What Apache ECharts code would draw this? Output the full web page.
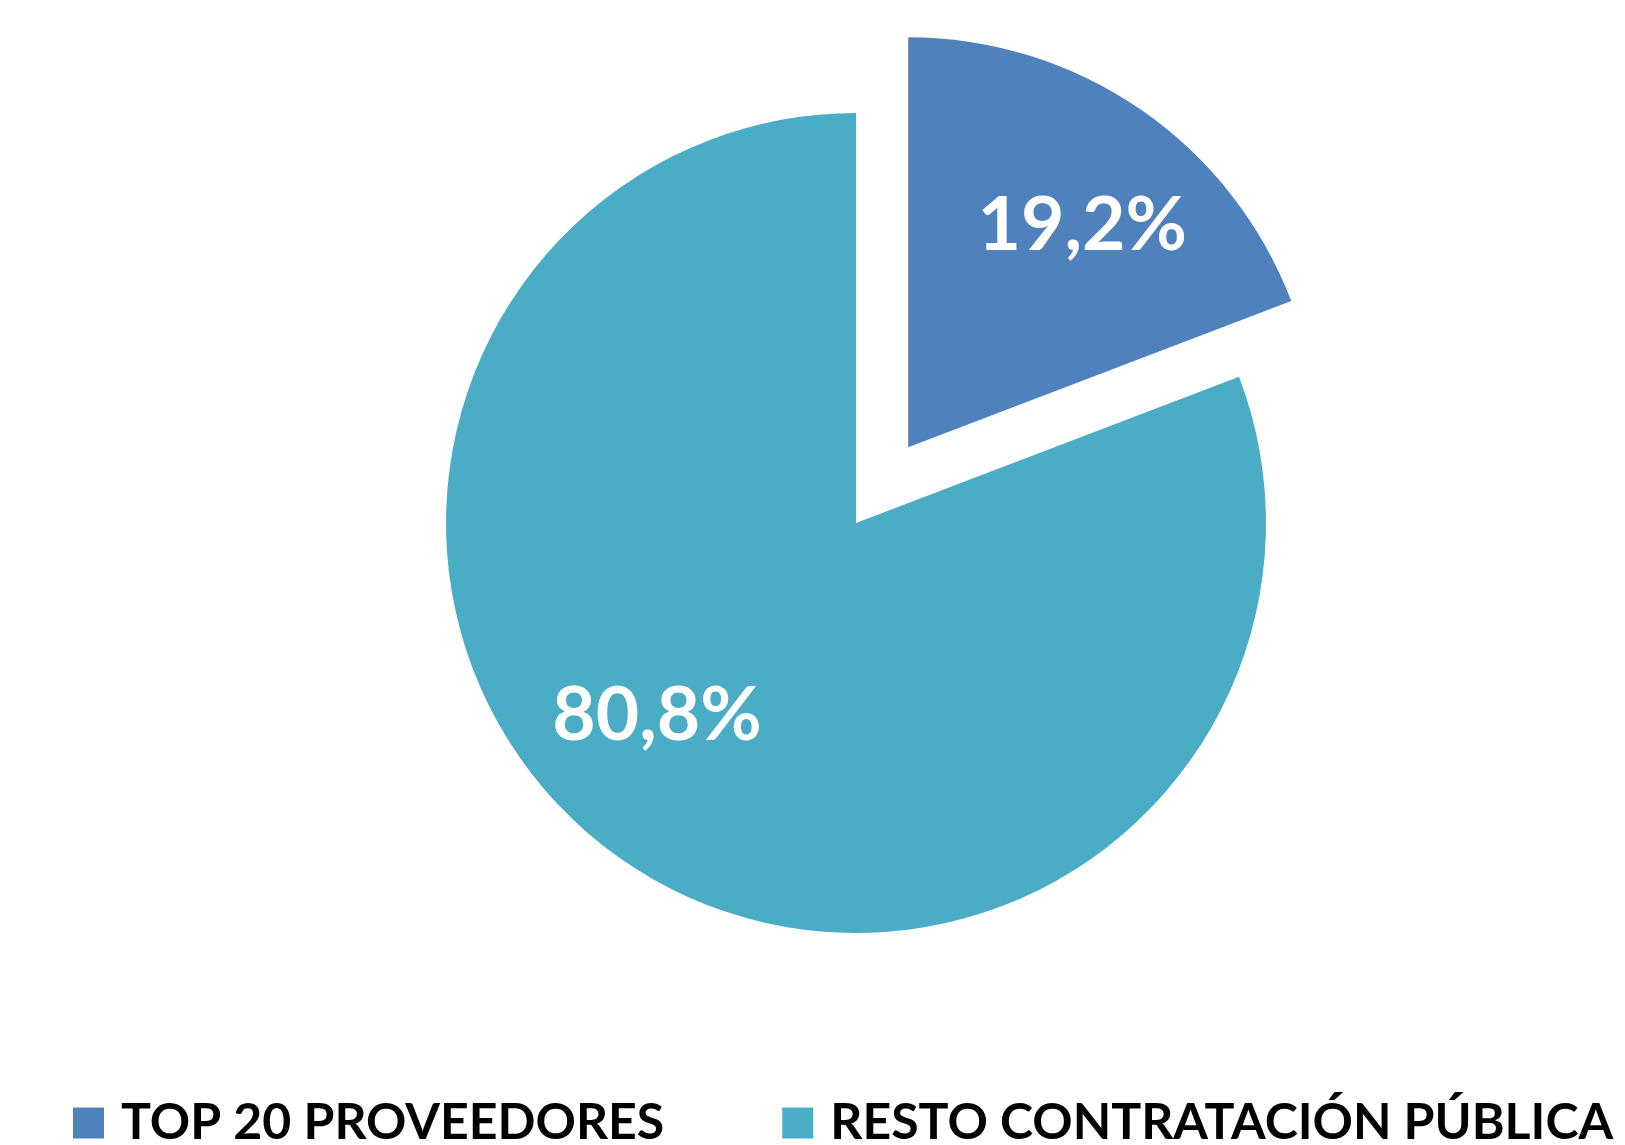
<!DOCTYPE html>
<html>
<head>
<meta charset="utf-8">
<style>
  html, body { margin: 0; padding: 0; background: #fff; }
  #chart { width: 1625px; height: 1145px; }
</style>
<script src="https://cdn.jsdelivr.net/npm/echarts@6/dist/echarts.min.js"></script>
</head>
<body>
<div id="chart"></div>
<script>
// categorías y valores (%)
const categories = ['TOP 20 PROVEEDORES', 'RESTO CONTRATACIÓN PÚBLICA'];
const values = [19.2, 80.8];
const colors = ['#4F81BD', '#4BACC6'];

// ajuste de posición de las etiquetas (estilo Excel)
const labelShift = [[56, -50], [-81, 22]];

const chart = echarts.init(document.getElementById('chart'));

const option = {
  animation: false,
  color: colors,
  legend: {
    data: categories,
    left: 73,
    top: 1097,
    width: 1600,
    padding: 0,
    itemWidth: 31,
    itemHeight: 31,
    itemGap: 118,
    icon: 'rect',
    selectedMode: false,
    textStyle: {
      fontFamily: 'Lato',
      fontWeight: 'bold',
      fontSize: 50,
      lineHeight: 52,
      color: '#000',
      padding: [0, 0, 0, 12]
    }
  },
  series: [{
    type: 'pie',
    center: [856, 523],
    radius: 410,
    startAngle: 90,
    clockwise: true,
    selectedMode: 'single',
    selectedOffset: 92,
    avoidLabelOverlap: false,
    emphasis: { disabled: true },
    label: {
      show: true,
      position: 'inside',
      formatter: p => p.value.toFixed(1).replace('.', ',') + '%',
      color: '#fff',
      fontFamily: 'Lato',
      fontWeight: 'bold',
      fontSize: 75
    },
    labelLine: { show: false },
    labelLayout: p => ({ dx: labelShift[p.dataIndex][0], dy: labelShift[p.dataIndex][1] }),
    data: categories.map((name, i) => ({
      name,
      value: values[i],
      selected: i === 0
    }))
  }]
};

chart.setOption(option);
</script>
</body>
</html>
